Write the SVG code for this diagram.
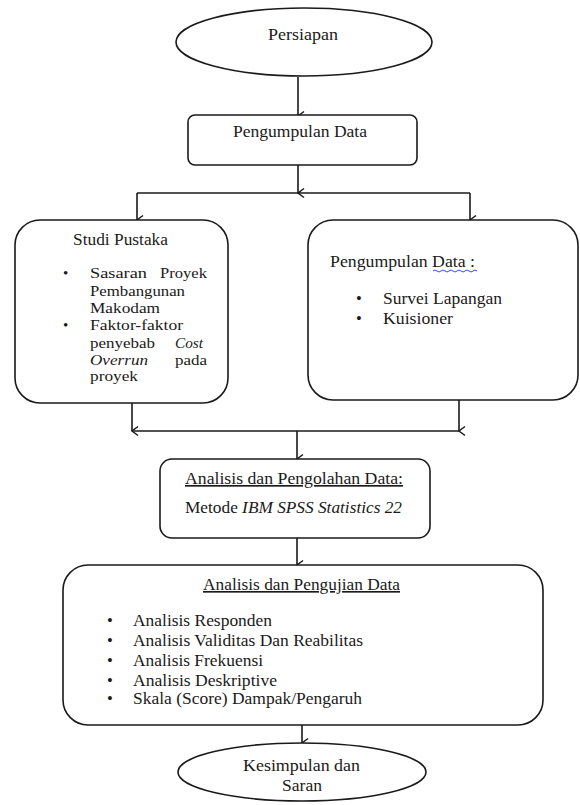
<svg xmlns="http://www.w3.org/2000/svg" width="580" height="805" viewBox="0 0 580 805">
<defs>
<marker id="arr" markerUnits="userSpaceOnUse" markerWidth="12" markerHeight="12" refX="6" refY="10" orient="auto-start-reverse" viewBox="0 0 12 12">
<path d="M1.5,4 L6,10 L10.5,4" fill="none" stroke="#1a1a1a" stroke-width="1.5"/>
</marker>
<style>
.n{fill:#fff;stroke:#1a1a1a;stroke-width:1.6}
.c{fill:none;stroke:#1a1a1a;stroke-width:1.6}
.a{marker-end:url(#arr)}
.m{text-anchor:middle}
.e{text-anchor:end}
.i{font-style:italic}
.u{text-decoration:underline}
.s{font-size:15px}
</style>
</defs>
<g font-family="'Liberation Serif', Tinos, 'DejaVu Serif', serif" font-size="16.5" fill="#1a1a1a">
<g id="connectors">
<path class="c a" d="M298,77 V116"/>
<path class="c a" d="M298,165 V193"/>
<path class="c" d="M137,193 H470"/>
<path class="c a" d="M137,193 V220"/>
<path class="c a" d="M470,193 V220"/>
<path class="c a" d="M132,403 V431"/>
<path class="c a" d="M459,400 V431"/>
<path class="c" d="M132,431 H459"/>
<path class="c a" d="M297,431 V459"/>
<path class="c a" d="M297,538 V565"/>
<path class="c a" d="M302,725 V743"/>
</g>
<g id="persiapan">
<ellipse class="n" cx="304" cy="42" rx="128" ry="34"/>
<text x="268" y="40" textLength="70" lengthAdjust="spacingAndGlyphs">Persiapan</text>
</g>
<g id="pengumpulan-data">
<rect class="n" x="188" y="115" width="229" height="50" rx="7"/>
<text x="233" y="137" textLength="134" lengthAdjust="spacingAndGlyphs">Pengumpulan Data</text>
</g>
<g id="studi-pustaka">
<rect class="n" x="15" y="220" width="213" height="183" rx="25"/>
<text x="73" y="245" textLength="95" lengthAdjust="spacingAndGlyphs">Studi Pustaka</text>
<g class="s">
<text x="63" y="278">•</text>
<text x="90" y="278" textLength="57" lengthAdjust="spacingAndGlyphs">Sasaran</text>
<text x="160" y="278" textLength="47" lengthAdjust="spacingAndGlyphs">Proyek</text>
<text x="90" y="296" textLength="95" lengthAdjust="spacingAndGlyphs">Pembangunan</text>
<text x="90" y="313" textLength="70" lengthAdjust="spacingAndGlyphs">Makodam</text>
<text x="63" y="330">•</text>
<text x="90" y="330" textLength="93" lengthAdjust="spacingAndGlyphs">Faktor-faktor</text>
<text x="90" y="348" textLength="65" lengthAdjust="spacingAndGlyphs">penyebab</text>
<text class="i" x="175" y="348" textLength="28" lengthAdjust="spacingAndGlyphs">Cost</text>
<text class="i" x="90" y="365" textLength="58" lengthAdjust="spacingAndGlyphs">Overrun</text>
<text x="175" y="365" textLength="32" lengthAdjust="spacingAndGlyphs">pada</text>
<text x="90" y="381" textLength="48" lengthAdjust="spacingAndGlyphs">proyek</text>
</g>
</g>
<g id="pengumpulan-data-2">
<rect class="n" x="308" y="220" width="270" height="180" rx="25"/>
<text x="330" y="267" textLength="145" lengthAdjust="spacingAndGlyphs">Pengumpulan Data :</text>
<path d="M433,271 q2,-2 4,0 t4,0 t4,0 t4,0 t4,0 t4,0 t4,0 t4,0 t4,0 t4,0 t4,0" fill="none" stroke="#3050e0" stroke-width="1"/>
<text x="356" y="304">•</text>
<text x="383" y="304" textLength="119" lengthAdjust="spacingAndGlyphs">Survei Lapangan</text>
<text x="356" y="324">•</text>
<text x="383" y="324" textLength="70" lengthAdjust="spacingAndGlyphs">Kuisioner</text>
</g>
<g id="analisis-pengolahan">
<rect class="n" x="160" y="459" width="270" height="79" rx="12"/>
<text class="u" x="185" y="484" textLength="218" lengthAdjust="spacingAndGlyphs">Analisis dan Pengolahan Data:</text>
<text x="185" y="513" textLength="217" lengthAdjust="spacingAndGlyphs">Metode <tspan class="i">IBM SPSS Statistics 22</tspan></text>
</g>
<g id="analisis-pengujian">
<rect class="n" x="63" y="565" width="480" height="160" rx="25"/>
<text class="u" x="203" y="590" textLength="197" lengthAdjust="spacingAndGlyphs">Analisis dan Pengujian Data</text>
<text x="107" y="626">•</text>
<text x="133" y="626" textLength="139" lengthAdjust="spacingAndGlyphs">Analisis Responden</text>
<text x="107" y="646">•</text>
<text x="133" y="646" textLength="230" lengthAdjust="spacingAndGlyphs">Analisis Validitas Dan Reabilitas</text>
<text x="107" y="666">•</text>
<text x="133" y="666" textLength="130" lengthAdjust="spacingAndGlyphs">Analisis Frekuensi</text>
<text x="107" y="686">•</text>
<text x="133" y="686" textLength="144" lengthAdjust="spacingAndGlyphs">Analisis Deskriptive</text>
<text x="107" y="704">•</text>
<text x="133" y="704" textLength="229" lengthAdjust="spacingAndGlyphs">Skala (Score) Dampak/Pengaruh</text>
</g>
<g id="kesimpulan">
<ellipse class="n" cx="302" cy="772" rx="124" ry="29"/>
<text x="243" y="771" textLength="117" lengthAdjust="spacingAndGlyphs">Kesimpulan dan</text>
<text x="282" y="791" textLength="40" lengthAdjust="spacingAndGlyphs">Saran</text>
</g>
</g>
</svg>
